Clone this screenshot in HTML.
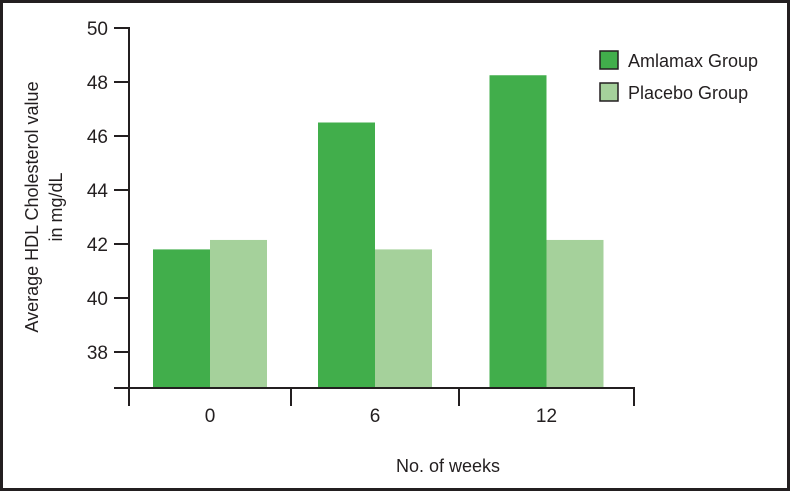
<!DOCTYPE html>
<html><head><meta charset="utf-8"><style>
html,body{margin:0;padding:0;background:#fff}
svg{display:block;font-family:"Liberation Sans",sans-serif}
</style></head><body>
<svg id="chart" width="790" height="491" viewBox="0 0 790 491">
<rect x="1.5" y="1.5" width="787" height="488" fill="#fff" stroke="#231f20" stroke-width="3"/>
<g id="bars"></g>
<g id="axes"></g>
<text transform="translate(38,207) rotate(-90)" text-anchor="middle" font-size="18" fill="#231f20"><tspan x="0" dy="0">Average HDL Cholesterol value</tspan><tspan x="0" dy="24">in mg/dL</tspan></text>
<text x="448" y="472" text-anchor="middle" font-size="18" fill="#231f20">No. of weeks</text>
<g>
<rect x="600" y="51" width="18" height="18" fill="#41ae4b" stroke="#231f20" stroke-width="1.5"/>
<text x="628" y="67" font-size="18" fill="#231f20">Amlamax Group</text>
<rect x="600" y="83" width="18" height="18" fill="#a5d19b" stroke="#231f20" stroke-width="1.5"/>
<text x="628" y="99" font-size="18" fill="#231f20">Placebo Group</text>
</g>
</svg>
<script>
const categories = ["0", "6", "12"];
const amlamax = [41.8, 46.5, 48.25];
const placebo = [42.15, 41.8, 42.15];
const yTicks = [38, 40, 42, 44, 46, 48, 50];

const NS = "http://www.w3.org/2000/svg";
const yTop = 28, perUnit = 27, yMax = 50, baseY = 387;
function y(v){ return yTop + (yMax - v) * perUnit; }
const groupEdges = [129, 291, 459, 634];
function groupCenter(i){ return (groupEdges[i] + groupEdges[i+1]) / 2; }
const barW = 57;

const bars = document.getElementById("bars");
const axes = document.getElementById("axes");
function mk(tag, attrs, parent){
  const e = document.createElementNS(NS, tag);
  for (const k in attrs) e.setAttribute(k, attrs[k]);
  parent.appendChild(e);
  return e;
}
categories.forEach((c, i) => {
  const cx = groupCenter(i);
  const a = mk("rect", {x: cx - barW, y: y(amlamax[i]), width: barW, height: baseY - y(amlamax[i]), fill: "#41ae4b"}, bars);
  
  
  const p = mk("rect", {x: cx, y: y(placebo[i]), width: barW, height: baseY - y(placebo[i]), fill: "#a5d19b"}, bars);
  
  
  const t = mk("text", {x: cx, y: 422, "text-anchor": "middle", "font-size": "19", fill: "#231f20"}, axes);
  t.textContent = c;
  
  
});
const yl = mk("line", {x1: 129, y1: yTop - 1, x2: 129, y2: 388, stroke: "#231f20", "stroke-width": 2}, axes);


const xl = mk("line", {x1: 114, y1: 388, x2: 635, y2: 388, stroke: "#231f20", "stroke-width": 2}, axes);


groupEdges.forEach(gx => {
  const tk = mk("line", {x1: gx, y1: 388, x2: gx, y2: 406, stroke: "#231f20", "stroke-width": 2}, axes);
  
  
});
yTicks.forEach(v => {
  const tk = mk("line", {x1: 114, y1: y(v), x2: 129, y2: y(v), stroke: "#231f20", "stroke-width": 2}, axes);
  
  
  const t = mk("text", {x: 108, y: y(v) + 7, "text-anchor": "end", "font-size": "19", fill: "#231f20"}, axes);
  t.textContent = v;
  
  
});
</script>
</body></html>
